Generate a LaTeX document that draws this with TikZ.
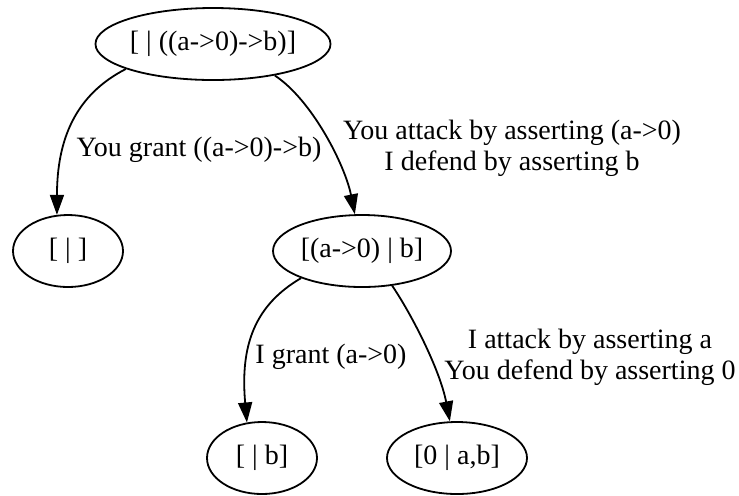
\documentclass[tikz,border=0pt]{standalone}
\usepackage{fontspec}
\setmainfont{Liberation Serif}
\usetikzlibrary{shapes.geometric,arrows.meta}
\begin{document}
\begin{tikzpicture}[x=0.5pt,y=-0.5pt,
  state/.style={ellipse,draw,line width=0.9pt,inner sep=0pt,minimum height=36pt,
    font=\fontsize{14}{15.5}\selectfont},
  lbl/.style={inner sep=0pt,align=center,font=\fontsize{14}{15.5}\selectfont},
  move/.style={line width=0.9pt,-{Triangle[length=10pt,width=7pt]}}]
\useasboundingbox (0,0) rectangle (739,495);

% dialogue states
\node[state,minimum width=109pt] (root) at (213,44)  {[ | ((a->0)->b)]};
\node[state,minimum width=55pt]  (l1)   at (68,251)  {[ | ]};
\node[state,minimum width=89pt]  (r1)   at (362,251) {[(a->0) | b]};
\node[state,minimum width=55pt]  (ll)   at (262,458) {[ | b]};
\node[state,minimum width=70pt]  (lr)   at (457,458) {[0 | a,b]};

% moves
\draw[move] (root.196.7) .. controls (75,95) and (57,140) .. (l1.107);
\draw[move] (root.333.4) .. controls (312,100) and (345,165) .. (r1.101);
\draw[move] (r1.204.6) .. controls (255,305) and (240,345) .. (ll.113);
\draw[move] (r1.311.4) .. controls (412,315) and (440,370) .. (lr.101);

% move labels
\node[lbl] (t1) at (199,150) {You grant ((a->0)->b)};
\node[lbl] (t2) at (512,148) {You attack by asserting (a->0)\\I defend by asserting b};
\node[lbl] (t3) at (331,357) {I grant (a->0)};
\node[lbl] (t4) at (590,357) {I attack by asserting a\\You defend by asserting 0};
\end{tikzpicture}
\end{document}
